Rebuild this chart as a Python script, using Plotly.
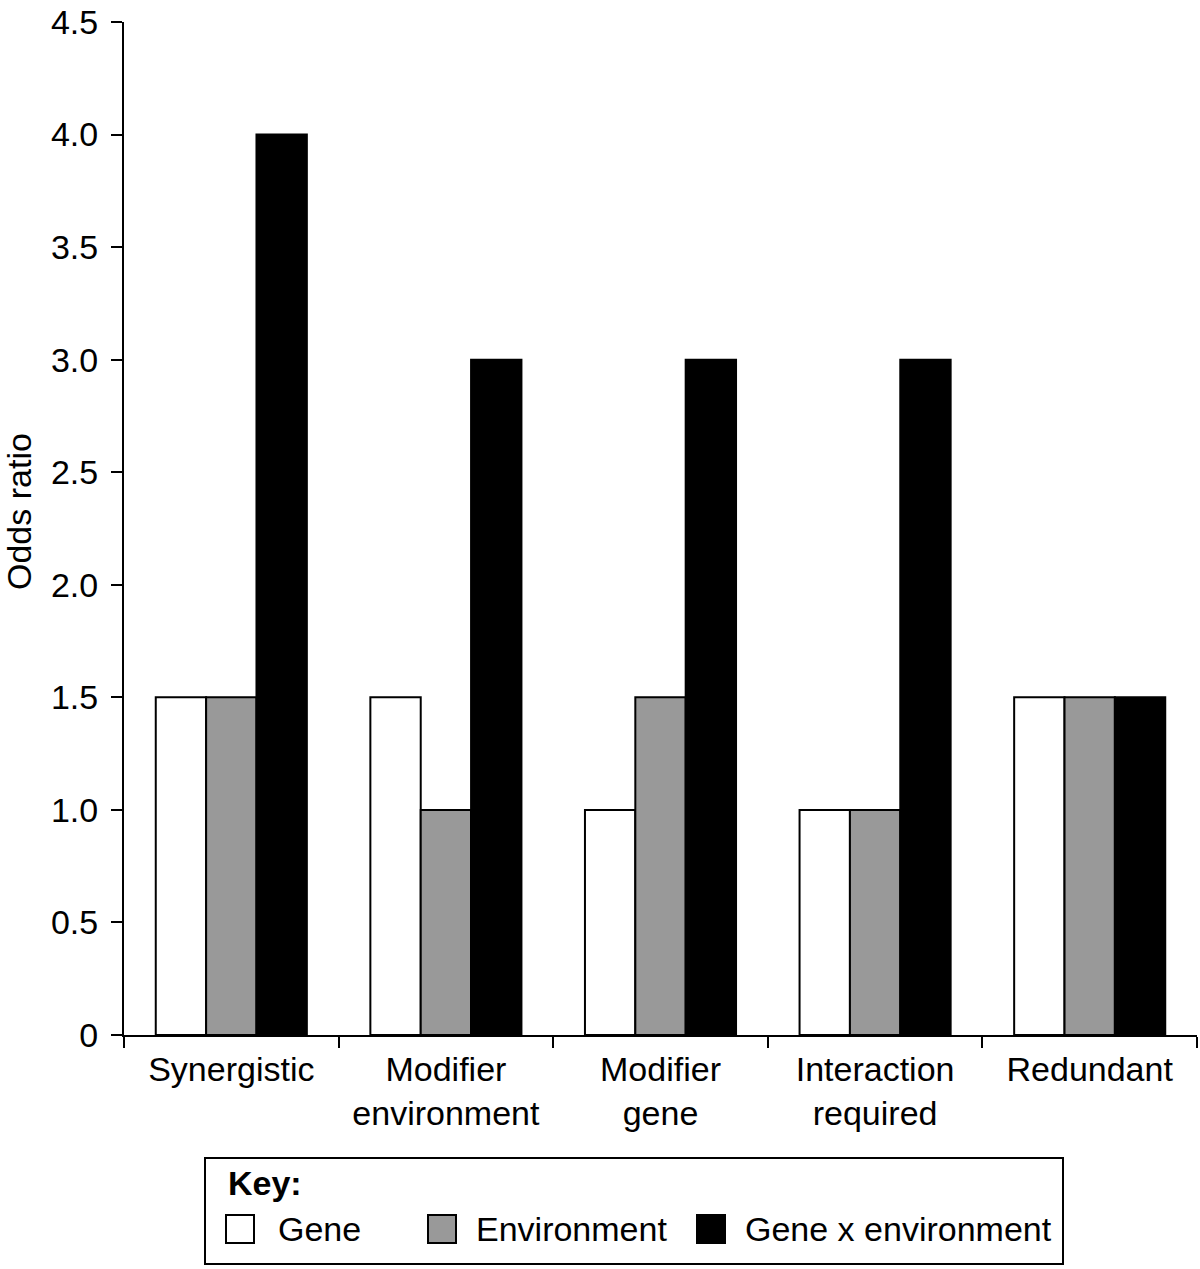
import plotly.graph_objects as go

categories = ["Synergistic", "Modifier<br>environment", "Modifier<br>gene", "Interaction<br>required", "Redundant"]
gene = [1.5, 1.5, 1.0, 1.0, 1.5]
environment = [1.5, 1.0, 1.5, 1.0, 1.5]
gxe = [4.0, 3.0, 3.0, 3.0, 1.5]
tick_vals = [0, 0.5, 1.0, 1.5, 2.0, 2.5, 3.0, 3.5, 4.0, 4.5]
tick_text = ["0", "0.5", "1.0", "1.5", "2.0", "2.5", "3.0", "3.5", "4.0", "4.5"]
series_names = ["Gene", "Environment", "Gene x environment"]
series_colors = ["#ffffff", "#999999", "#000000"]

OFF = 0  # page body margin removed via post_script
W, H = 1200, 1269
L, R, T = 124 - OFF, 3, 22 - OFF
B = H - (1035 - OFF)
FONT = "Liberation Sans, Arial, Helvetica, sans-serif"
FS = 34

fig = go.Figure()
for name, vals, col in zip(series_names, [gene, environment, gxe], series_colors):
    fig.add_trace(go.Bar(x=categories, y=vals, name=name, marker=dict(color=col, line=dict(color="black", width=2)),
                         showlegend=False))

fig.update_layout(
    width=W, height=H,
    margin=dict(l=L, r=R, t=T, b=B, pad=0, autoexpand=False),
    paper_bgcolor="white", plot_bgcolor="white",
    barmode="group", bargap=0.296, bargroupgap=0,
    font=dict(family=FONT, size=FS, color="black"),
)
fig.update_xaxes(showline=True, linecolor="black", linewidth=2, ticks="outside", ticklen=11, tickwidth=2,
                 tickcolor="black", tickson="boundaries", showgrid=False, zeroline=False, automargin=False,
                 range=[-0.5, 4.5], tickfont=dict(size=FS), ticklabelstandoff=3)
fig.update_yaxes(showline=True, linecolor="black", linewidth=2, ticks="outside", ticklen=11, tickwidth=2,
                 tickcolor="black", showgrid=False, zeroline=False, range=[0, 4.5], automargin=False,
                 tickmode="array", tickvals=tick_vals, ticktext=tick_text, tickfont=dict(size=FS),
                 ticklabelstandoff=6, ticklabeloverflow="allow")

pw = W - L - R
ph = H - T - B
def px(x):
    return (x - OFF - L) / pw
def py(y):
    return (H - B - (y - OFF)) / ph

fig.add_annotation(xref="paper", yref="paper", x=px(19), y=py(512), text="Odds ratio", textangle=-90,
                   showarrow=False, xanchor="center", yanchor="middle", font=dict(size=FS))

# legend box
fig.add_shape(type="rect", xref="paper", yref="paper", x0=px(205), x1=px(1063), y0=py(1264), y1=py(1158),
              line=dict(color="black", width=2), fillcolor="white")
fig.add_annotation(xref="paper", yref="paper", x=px(226), y=py(1183), text="<b>Key:</b>", showarrow=False,
                   xanchor="left", yanchor="middle", font=dict(size=FS))
sq_x = [226, 428, 697]
tx_x = [276, 474, 743]
for name, col, sx, tx in zip(series_names, series_colors, sq_x, tx_x):
    fig.add_shape(type="rect", xref="paper", yref="paper", x0=px(sx), x1=px(sx + 28), y0=py(1243), y1=py(1215),
                  line=dict(color="black", width=2), fillcolor=col)
    fig.add_annotation(xref="paper", yref="paper", x=px(tx), y=py(1229), text=name, showarrow=False,
                       xanchor="left", yanchor="middle", font=dict(size=FS))

fig.write_html("out.html", config={"displayModeBar": False},
               post_script="document.body.style.margin='0';document.body.style.overflow='hidden';")
